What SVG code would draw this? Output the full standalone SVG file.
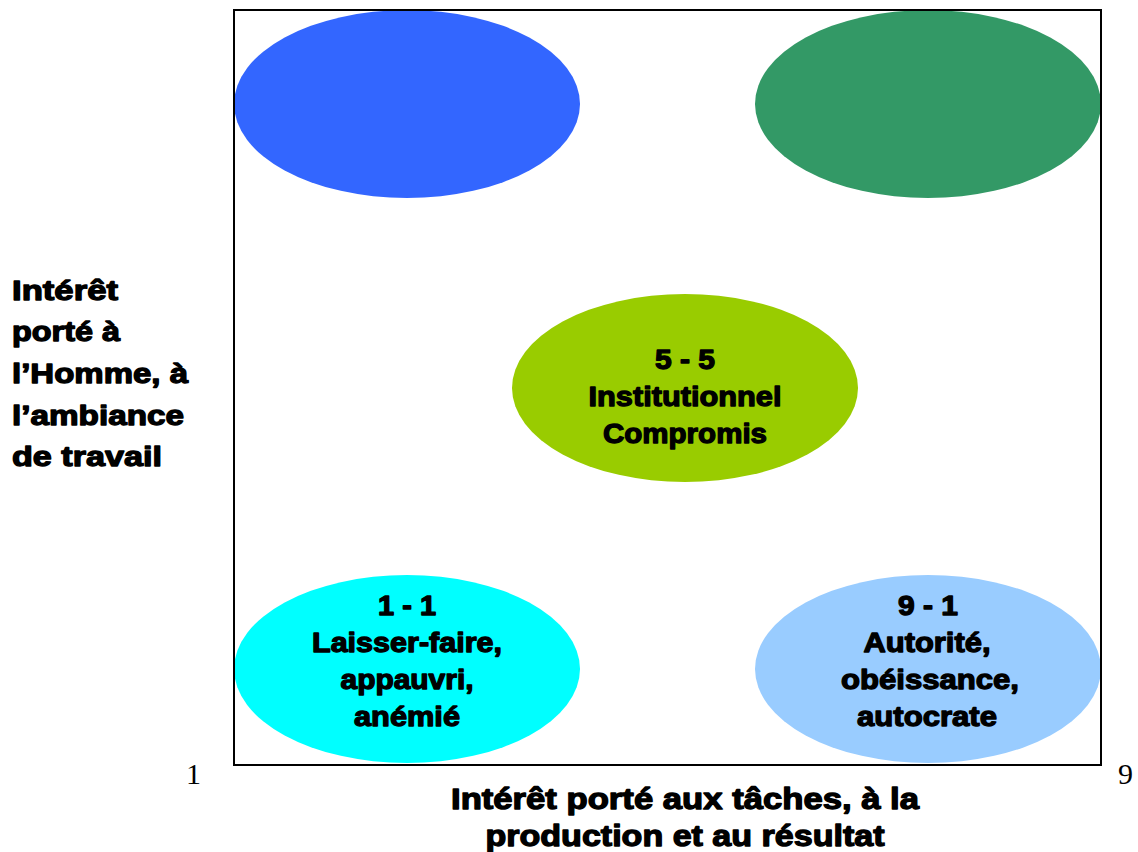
<svg xmlns="http://www.w3.org/2000/svg" width="1138" height="852" viewBox="0 0 1138 852">
<style>
.t{font-family:"Liberation Sans",Arial,sans-serif;font-weight:bold;font-size:28px;fill:#000;stroke:#000;stroke-width:1.3px;stroke-linejoin:round}
.b{font-size:30px}
.c{text-anchor:middle}
.n{font-family:"Liberation Serif","Times New Roman",serif;font-size:30px;fill:#000}
</style>
<rect width="1138" height="852" fill="#fff"/>
<g id="n-blue"><ellipse cx="407" cy="104" rx="173" ry="94" fill="#3366FF"/></g>
<g id="n-green"><ellipse cx="928" cy="104" rx="173" ry="94" fill="#339966"/></g>
<g id="n-55">
<ellipse cx="685" cy="388" rx="173" ry="94" fill="#99CC00"/>
<text class="t c" x="685" y="369" textLength="60" lengthAdjust="spacingAndGlyphs">5 - 5</text>
<text class="t c" x="685" y="406" textLength="193" lengthAdjust="spacingAndGlyphs">Institutionnel</text>
<text class="t c" x="685" y="443" textLength="164" lengthAdjust="spacingAndGlyphs">Compromis</text>
</g>
<g id="n-11">
<ellipse cx="407" cy="669" rx="173" ry="94" fill="#00FFFF"/>
<text class="t c" x="407" y="615" textLength="58" lengthAdjust="spacingAndGlyphs">1 - 1</text>
<text class="t c" x="407" y="652" textLength="190" lengthAdjust="spacingAndGlyphs">Laisser-faire,</text>
<text class="t c" x="407" y="689" textLength="133" lengthAdjust="spacingAndGlyphs">appauvri,</text>
<text class="t c" x="407" y="726" textLength="106" lengthAdjust="spacingAndGlyphs">anémié</text>
</g>
<g id="n-91">
<ellipse cx="928" cy="669" rx="173" ry="94" fill="#99CCFF"/>
<text class="t c" x="928" y="615" textLength="60" lengthAdjust="spacingAndGlyphs">9 - 1</text>
<text class="t c" x="927" y="652" textLength="127" lengthAdjust="spacingAndGlyphs">Autorité,</text>
<text class="t c" x="930" y="689" textLength="178" lengthAdjust="spacingAndGlyphs">obéissance,</text>
<text class="t c" x="927" y="726" textLength="140" lengthAdjust="spacingAndGlyphs">autocrate</text>
</g>
<g id="connectors"></g>
<g id="frame">
<rect x="234" y="10" width="867" height="755" fill="none" stroke="#000" stroke-width="2"/>
</g>
<g id="y-label">
<text class="t" x="12" y="300" textLength="106" lengthAdjust="spacingAndGlyphs">Intérêt</text>
<text class="t" x="12" y="341" textLength="108" lengthAdjust="spacingAndGlyphs">porté à</text>
<text class="t" x="12" y="383" textLength="176" lengthAdjust="spacingAndGlyphs">l’Homme, à</text>
<text class="t" x="12" y="425" textLength="172" lengthAdjust="spacingAndGlyphs">l’ambiance</text>
<text class="t" x="12" y="466" textLength="150" lengthAdjust="spacingAndGlyphs">de travail</text>
</g>
<g id="x-label">
<text class="t b c" x="685" y="809" textLength="468" lengthAdjust="spacingAndGlyphs">Intérêt porté aux tâches, à la</text>
<text class="t b c" x="685" y="846" textLength="399" lengthAdjust="spacingAndGlyphs">production et au résultat</text>
</g>
<text class="n" x="186" y="784">1</text>
<text class="n" x="1118" y="784">9</text>
</svg>
